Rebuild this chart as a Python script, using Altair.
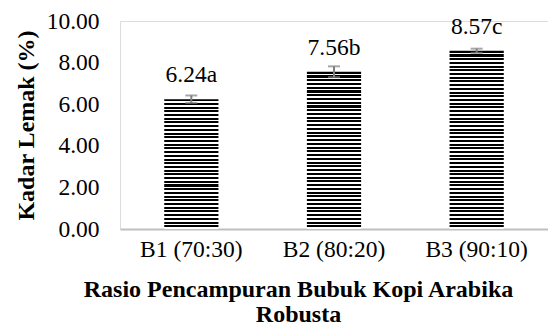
import altair as alt
import pandas as pd

categories = ["B1 (70:30)", "B2 (80:20)", "B3 (90:10)"]
values = [6.24, 7.56, 8.57]
letters = ["a", "b", "c"]
errors = [0.18, 0.26, 0.10]

df = pd.DataFrame({
    "cat": categories,
    "val": values,
    "lab": [f"{v:.2f}{l}" for v, l in zip(values, letters)],
    "lo": [v - e for v, e in zip(values, errors)],
    "hi": [v + e for v, e in zip(values, errors)],
})

FONT = "'Times New Roman', 'Liberation Serif', serif"
FS = 23.5
TFS = 24

x_enc = alt.X("cat:N", sort=categories,
              scale=alt.Scale(paddingInner=0.62, paddingOuter=0.31),
              axis=alt.Axis(title=["Rasio Pencampuran Bubuk Kopi Arabika", "Robusta"],
                            labelAngle=0, ticks=False, domainColor="#BFBFBF", domainWidth=2,
                            labelPadding=8, labelFont=FONT, labelFontSize=FS, labelColor="black",
                            titleFont=FONT, titleFontSize=TFS, titleFontWeight="bold",
                            titleColor="black", titleX=178, titleY=48, titleBaseline="top",
                            titleAlign="center", titleLineHeight=25))
y_scale = alt.Scale(domain=[0, 10], nice=False, zero=True)
y_axis = alt.Axis(title="Kadar Lemak (%)", values=[0, 2, 4, 6, 8, 10], format=".2f",
                  grid=False, ticks=False, domain=False, labelPadding=21,
                  labelFont=FONT, labelFontSize=FS, labelColor="black",
                  titleFont=FONT, titleFontSize=TFS, titleFontWeight="bold", titleColor="black",
                  titleX=-94, titleY=104, titleAngle=270, titleBaseline="middle",
                  titleAlign="center")


def stripes(n):
    stops = []
    for k in range(n):
        a = k / n
        b = (k + 0.55) / n
        c = (k + 1) / n
        stops += [alt.GradientStop(offset=a, color="black"),
                  alt.GradientStop(offset=b, color="black"),
                  alt.GradientStop(offset=b, color="white"),
                  alt.GradientStop(offset=c, color="white")]
    return alt.LinearGradient(gradient="linear", stops=stops, x1=0, x2=0, y1=0, y2=1)


base = alt.Chart(df)
layers = []
for cat, v in zip(categories, values):
    n = int(round(v * 5.6))
    layers.append(
        base.transform_filter(alt.datum.cat == cat).mark_bar(color=stripes(n)).encode(
            x=x_enc, y=alt.Y("val:Q", scale=y_scale, axis=y_axis)))

err = base.mark_rule(color="#808080", strokeWidth=2).encode(
    x=alt.X("cat:N", sort=categories), y="lo:Q", y2="hi:Q")
cap_lo = base.mark_tick(color="#808080", size=12, thickness=2, orient="horizontal").encode(
    x=alt.X("cat:N", sort=categories), y="lo:Q")
cap_hi = base.mark_tick(color="#808080", size=12, thickness=2, orient="horizontal").encode(
    x=alt.X("cat:N", sort=categories), y="hi:Q")
txt = base.mark_text(font=FONT, fontSize=FS, color="black", baseline="alphabetic",
                     dy=-17).encode(x=alt.X("cat:N", sort=categories), y="val:Q", text="lab:N")

chart = alt.layer(*layers, err, cap_lo, cap_hi, txt).properties(
    width=428, height=208,
    padding={"left": 120, "top": 21, "right": 0, "bottom": 97},
    autosize=alt.AutoSizeParams(type="none"),
).configure_view(stroke=None).configure(background="white", font=FONT)

chart.save("out.html", embed_options={"renderer": "svg", "actions": False})
